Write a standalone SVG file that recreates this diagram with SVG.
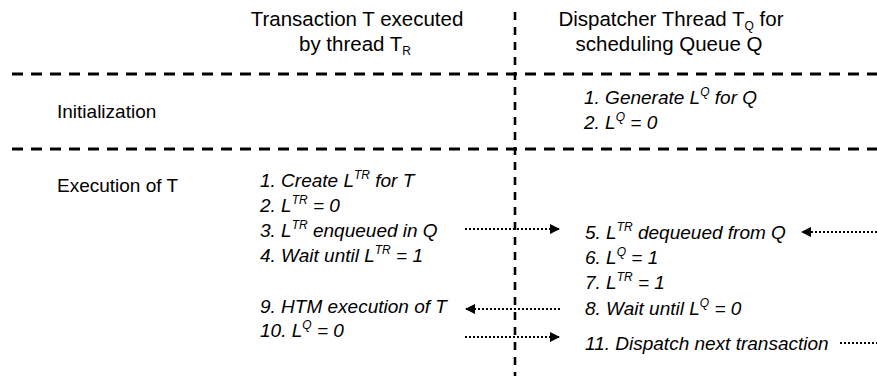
<svg xmlns="http://www.w3.org/2000/svg" width="877" height="376" viewBox="0 0 877 376">
  <style>
    .head { font-family: "Liberation Sans", Arial, sans-serif; font-size: 20.5px; fill: #000; }
    .label { font-family: "Liberation Sans", Arial, sans-serif; font-size: 19px; fill: #000; }
    .step { font-family: "Liberation Sans", Arial, sans-serif; font-size: 19px; font-style: italic; fill: #000; }
    .sup { font-size: 12px; }
    .divider { stroke: #000; stroke-width: 2.8; fill: none; stroke-dasharray: 11 8; }
    .lane { stroke: #000; stroke-width: 2.6; fill: none; stroke-dasharray: 8 7; }
    .msg { stroke: #000; stroke-width: 2; fill: none; stroke-dasharray: 2 2; }
  </style>
  <defs>
    <marker id="arrow" viewBox="0 0 10 10" refX="9" refY="5" markerWidth="5" markerHeight="5" orient="auto" markerUnits="strokeWidth">
      <path d="M0,0 L10,5 L0,10 Z" fill="#000"/>
    </marker>
  </defs>

  <!-- swimlane frame -->
  <g id="frame">
    <line class="lane" x1="515" y1="12" x2="515" y2="376"/>
    <line class="divider" x1="12" y1="74" x2="877" y2="74"/>
    <line class="divider" x1="12" y1="149" x2="877" y2="149"/>
  </g>

  <!-- column headers -->
  <g id="header-thread">
    <text class="head" x="357" y="26" text-anchor="middle">Transaction T executed</text>
    <text class="head" x="355" y="51" text-anchor="middle">by thread T<tspan class="sup" dy="4">R</tspan></text>
  </g>
  <g id="header-dispatcher">
    <text class="head" x="671" y="26" text-anchor="middle">Dispatcher Thread T<tspan class="sup" dy="4">Q</tspan><tspan dy="-4"> for</tspan></text>
    <text class="head" x="669" y="51" text-anchor="middle">scheduling Queue Q</text>
  </g>

  <!-- phase labels -->
  <g id="phase-init">
    <text class="label" x="57" y="118">Initialization</text>
  </g>
  <g id="phase-exec">
    <text class="label" x="57" y="192">Execution of T</text>
  </g>

  <!-- dispatcher initialization -->
  <g id="init-steps">
    <text class="step" x="584" y="104">1. Generate L<tspan class="sup" dy="-8">Q</tspan><tspan dy="8"> for Q</tspan></text>
    <text class="step" x="584" y="129">2. L<tspan class="sup" dy="-8">Q</tspan><tspan dy="8"> = 0</tspan></text>
  </g>

  <!-- transaction thread steps -->
  <g id="thread-steps">
    <text class="step" x="260" y="187">1. Create L<tspan class="sup" dy="-8">TR</tspan><tspan dy="8"> for T</tspan></text>
    <text class="step" x="260" y="212">2. L<tspan class="sup" dy="-8">TR</tspan><tspan dy="8"> = 0</tspan></text>
    <text class="step" x="260" y="237">3. L<tspan class="sup" dy="-8">TR</tspan><tspan dy="8"> enqueued in Q</tspan></text>
    <text class="step" x="260" y="262">4. Wait until L<tspan class="sup" dy="-8">TR</tspan><tspan dy="8"> = 1</tspan></text>
    <text class="step" x="260" y="313">9. HTM execution of T</text>
    <text class="step" x="260" y="337">10. L<tspan class="sup" dy="-8">Q</tspan><tspan dy="8"> = 0</tspan></text>
  </g>

  <!-- dispatcher steps -->
  <g id="dispatcher-steps">
    <text class="step" x="585" y="239">5. L<tspan class="sup" dy="-8">TR</tspan><tspan dy="8"> dequeued from Q</tspan></text>
    <text class="step" x="585" y="264">6. L<tspan class="sup" dy="-8">Q</tspan><tspan dy="8"> = 1</tspan></text>
    <text class="step" x="585" y="289">7. L<tspan class="sup" dy="-8">TR</tspan><tspan dy="8"> = 1</tspan></text>
    <text class="step" x="585" y="315">8. Wait until L<tspan class="sup" dy="-8">Q</tspan><tspan dy="8"> = 0</tspan></text>
    <text class="step" x="585" y="350">11. Dispatch next transaction</text>
  </g>

  <!-- messages between the threads -->
  <g id="connectors">
    <line class="msg" x1="465" y1="229" x2="559" y2="229" marker-end="url(#arrow)"/>
    <line class="msg" x1="560" y1="309" x2="466" y2="309" marker-end="url(#arrow)"/>
    <line class="msg" x1="465" y1="337" x2="559" y2="337" marker-end="url(#arrow)"/>
    <line class="msg" x1="877" y1="232" x2="802" y2="232" marker-end="url(#arrow)"/>
    <line class="msg" x1="840" y1="343" x2="877" y2="343"/>
  </g>
</svg>
